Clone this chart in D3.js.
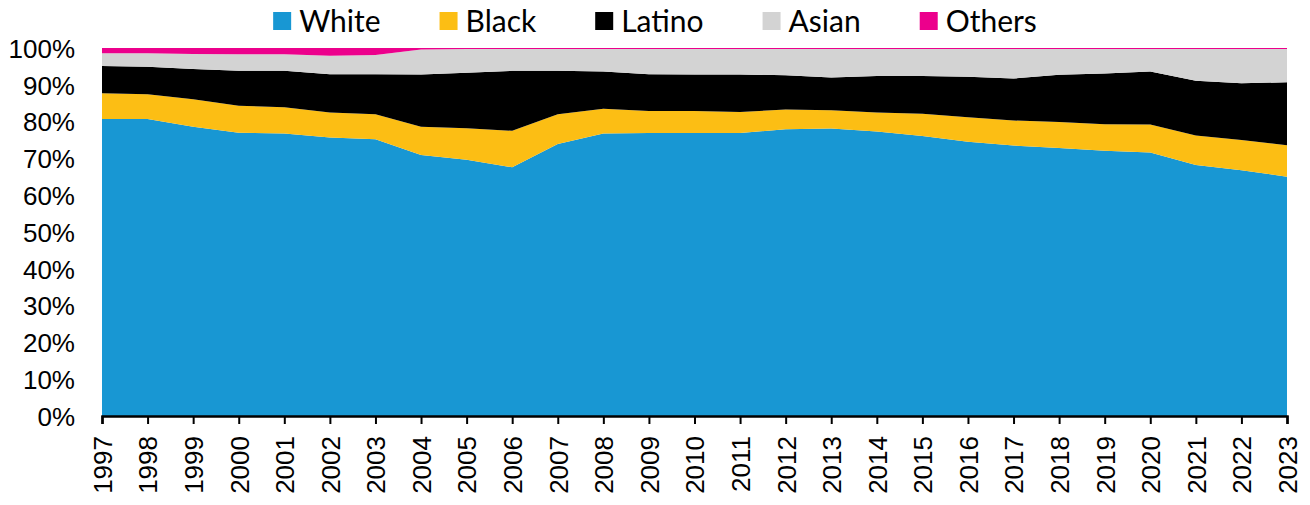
<!DOCTYPE html>
<html>
<head>
<meta charset="utf-8">
<script src="https://cdn.jsdelivr.net/npm/d3@7"></script>
<style>
  body { margin: 0; background: #fff; }
  svg { font-family: Lato, sans-serif; }
</style>
</head>
<body>
<svg id="chart" width="1310" height="505"></svg>
<script>
const years = [1997,1998,1999,2000,2001,2002,2003,2004,2005,2006,2007,2008,2009,2010,2011,2012,2013,2014,2015,2016,2017,2018,2019,2020,2021,2022,2023];
const white  = [80.7,80.7,78.6,77.0,76.8,75.7,75.2,70.9,69.6,67.6,73.9,76.8,76.9,76.9,76.9,77.9,78.1,77.3,76.1,74.5,73.5,72.8,72.1,71.6,68.2,66.8,65.0];
const black  = [7.0,6.7,7.5,7.3,7.1,6.8,6.8,7.7,8.6,9.9,8.1,6.7,6.0,6.0,5.7,5.4,5.0,5.2,6.0,6.7,6.8,7.1,7.2,7.6,8.0,8.2,8.6];
const latino = [7.4,7.5,8.2,9.5,9.9,10.4,10.9,14.2,15.1,16.3,11.8,10.1,10.0,9.9,10.2,9.3,8.9,9.9,10.3,11.0,11.4,12.8,13.8,14.4,14.9,15.4,17.1];
const asian  = [3.5,3.7,4.1,4.5,4.5,5.0,5.2,6.8,6.4,5.9,5.9,6.1,6.8,6.9,6.9,7.1,7.7,7.3,7.3,7.5,8.0,7.0,6.6,6.1,8.6,9.3,9.0];
const others = [1.4,1.4,1.6,1.7,1.7,2.1,1.9,0.4,0.3,0.3,0.3,0.3,0.3,0.3,0.3,0.3,0.3,0.3,0.3,0.3,0.3,0.3,0.3,0.3,0.3,0.3,0.3];
const groups = ['White', 'Black', 'Latino', 'Asian', 'Others'];
const groupColors = ['#1897d3', '#fcbe14', '#000000', '#d3d3d3', '#ec008c'];
const yTicks = [0,10,20,30,40,50,60,70,80,90,100];

const svg = d3.select('#chart');
const width = +svg.attr('width');
const height = +svg.attr('height');
const margin = { top: 48, right: 23, bottom: 89, left: 102 };
const innerWidth = width - margin.left - margin.right;
const innerHeight = height - margin.top - margin.bottom;

// table for the stack
const series = [white, black, latino, asian, others];
const data = years.map((yr, i) => {
    const row = { year: yr };
    groups.forEach((k, j) => { row[k] = series[j][i]; });
    return row;
});
const stacked = d3.stack().keys(groups)(data);

const x = d3.scaleLinear().domain([1997, 2023]).range([0, innerWidth]);
const y = d3.scaleLinear().domain([0, 100]).range([innerHeight, 0]);
const color = d3.scaleOrdinal().domain(groups).range(groupColors);

const g = svg.append('g')
    .attr('transform', `translate(${margin.left},${margin.top})`);

// areas
g.selectAll('.layer')
    .data(stacked).enter()
    .append('path')
    .attr('class', 'layer')
    .attr('fill', d => color(d.key))
    .attr('d', d3.area()
        .x(d => x(d.data.year))
        .y0(d => y(d[0]))
        .y1(d => y(d[1])));

// y axis, labels only
const yAxis = g.append('g')
    .call(d3.axisLeft(y).tickValues(yTicks).tickSize(0).tickPadding(27).tickFormat(d => d + '%'));
yAxis.select('.domain').remove();
yAxis.selectAll('text')
    .attr('fill', '#000')
    .style('font-size', '26px')
    .attr('dy', '0.36em');

// x axis
const xAxis = g.append('g')
    .attr('transform', `translate(0,${innerHeight})`)
    .call(d3.axisBottom(x).tickValues(years).tickFormat(d3.format('d')).tickSizeOuter(0).tickSize(8));
xAxis.select('.domain').attr('stroke', '#000').attr('stroke-width', 2.5);
xAxis.selectAll('.tick line').attr('stroke', '#000').attr('stroke-width', 2);
xAxis.selectAll('text')
    .attr('fill', '#000')
    .style('font-size', '26px')
    .attr('transform', 'rotate(-90)')
    .attr('text-anchor', 'end')
    .attr('x', -20)
    .attr('y', 0)
    .attr('dy', '0.36em');

// legend centred on top
const gap = 59;
const legend = svg.append('g');
let lx = 0;
groups.forEach((k, i) => {
    const item = legend.append('g').attr('transform', `translate(${lx},0)`);
    item.append('rect')
        .attr('x', 0).attr('y', -9)
        .attr('width', 18).attr('height', 18)
        .attr('fill', color(k));
    const t = item.append('text')
        .attr('x', 26).attr('y', 0)
        .attr('dy', '0.35em')
        .style('font-size', '30px')
        .attr('fill', '#000')
        .text(k);
    lx += 26 + t.node().getComputedTextLength() + gap;
});
const lw = lx - gap;
legend.attr('transform', `translate(${(width - lw) / 2},21)`);
</script>
</body>
</html>
